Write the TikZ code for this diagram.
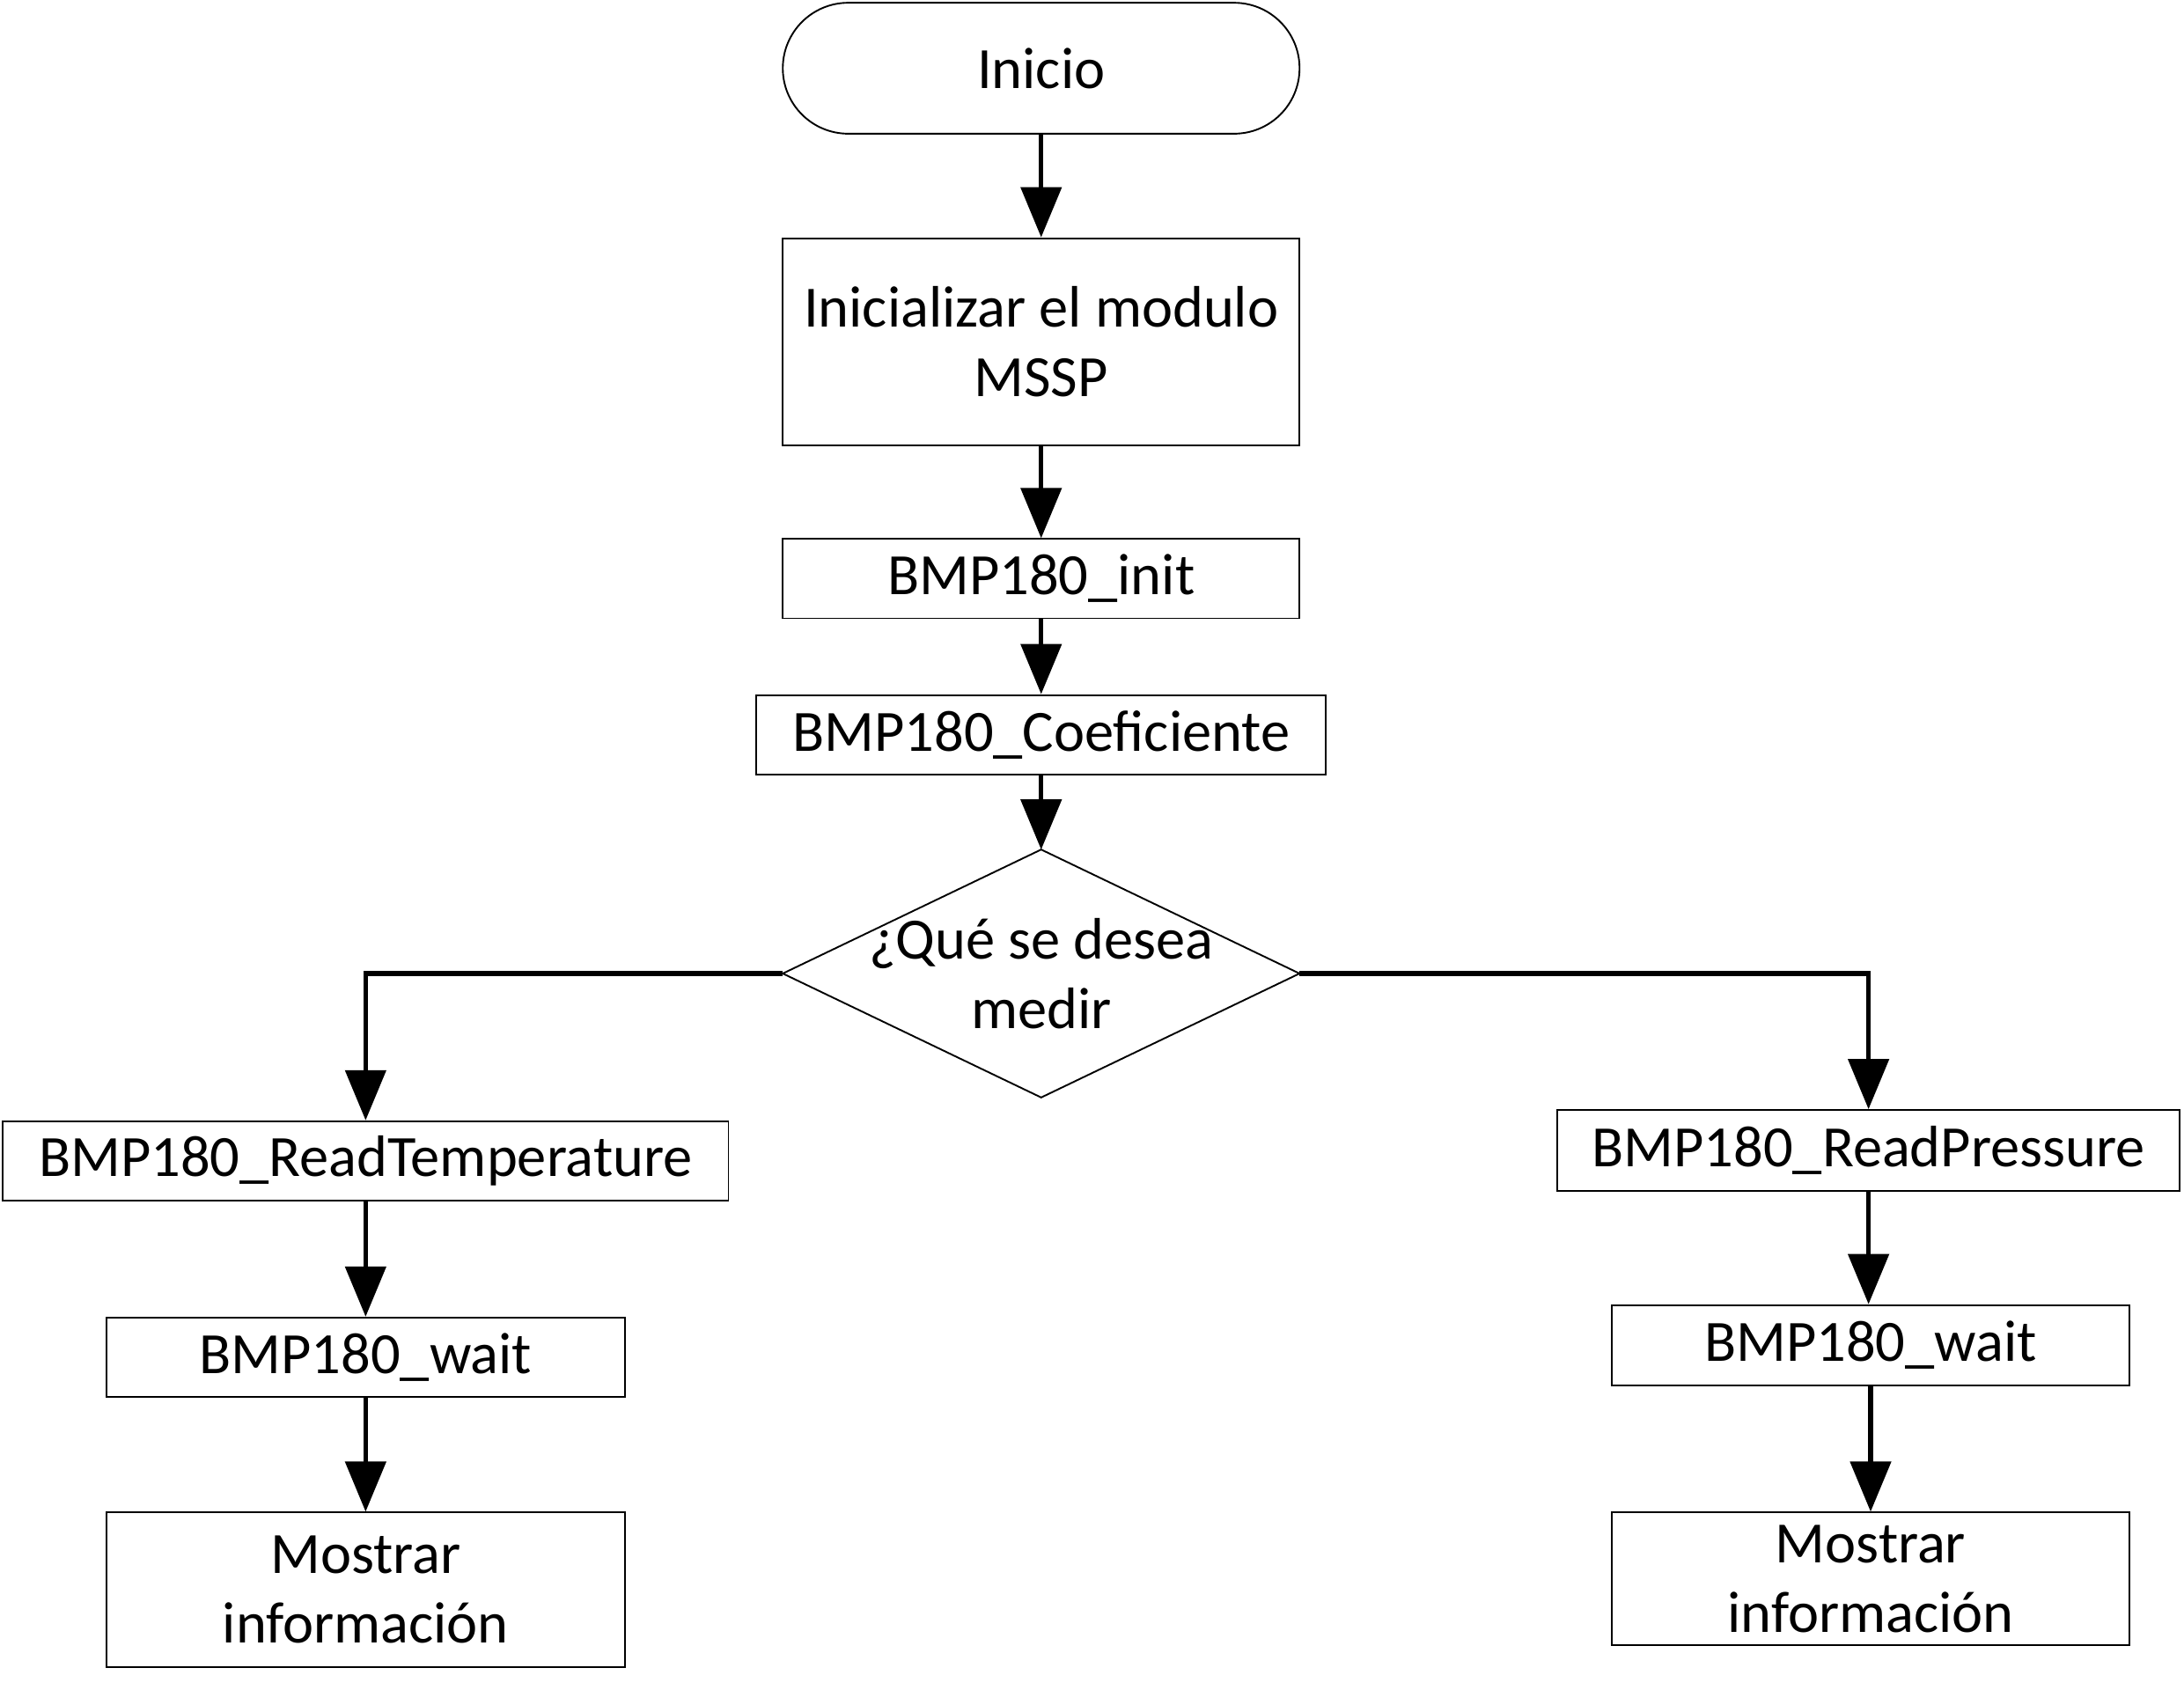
\documentclass[tikz,border=0pt]{standalone}
\usepackage{fontspec}
\setmainfont{Carlito}
\usetikzlibrary{arrows.meta}
\begin{document}
\begin{tikzpicture}[x=0.5pt,y=-0.5pt,
  txt/.style={inner sep=0pt, align=center, font=\fontsize{21}{25}\selectfont},
  box/.style={txt, draw, line width=0.6pt},
  conn/.style={line width=1.6pt, -{Triangle[length=18pt,width=14.5pt]}}]
\useasboundingbox (0,0) rectangle (1568,1213);
\fill[white] (0,0) rectangle (1568,1213);

\node[box, rounded corners=23.5pt, minimum width=185.5pt, minimum height=47pt] (ini) at (747.5,49) {Inicio};
\node[box, minimum width=185.5pt, minimum height=74.5pt] (mssp) at (747.5,245.5) {Inicializar el modulo\\MSSP};
\node[box, minimum width=185.5pt, minimum height=28.5pt] (init) at (747.5,415.5) {BMP180\_init};
\node[box, minimum width=204.5pt, minimum height=28.5pt] (coef) at (747.5,527.5) {BMP180\_Coeficiente};

\coordinate (dT) at (747.5,610);
\coordinate (dB) at (747.5,788);
\coordinate (dL) at (562,699);
\coordinate (dR) at (933,699);
\draw[line width=0.6pt, line join=miter] (dT) -- (dR) -- (dB) -- (dL) -- cycle;
\node[txt] (q) at (747.5,699) {¿Qué se desea\\medir};

\node[box, minimum width=260.5pt, minimum height=28.5pt] (temp) at (262.5,833.5) {BMP180\_ReadTemperature};
\node[box, minimum width=186pt, minimum height=28.5pt] (waitL) at (262.5,974.5) {BMP180\_wait};
\node[box, minimum width=186pt, minimum height=55.5pt] (mosL) at (262.5,1141.5) {Mostrar\\información};

\node[box, minimum width=223.5pt, minimum height=29pt] (pres) at (1341.5,826) {BMP180\_ReadPressure};
\node[box, minimum width=186pt, minimum height=29pt] (waitR) at (1343,966) {BMP180\_wait};
\node[box, minimum width=186pt, minimum height=47.5pt] (mosR) at (1343,1133.5) {Mostrar\\información};

\draw[conn] (ini.south) -- (mssp.north);
\draw[conn] (mssp.south) -- (init.north);
\draw[conn] (init.south) -- (coef.north);
\draw[conn] (coef.south) -- (dT);
\draw[conn, line join=miter] (dL) -| (temp.north);
\draw[conn, line join=miter] (dR) -| (pres.north);
\draw[conn] (temp.south) -- (waitL.north);
\draw[conn] (waitL.south) -- (mosL.north);
\draw[conn] (pres.south) -- (pres.south |- waitR.north);
\draw[conn] (waitR.south) -- (mosR.north);
\end{tikzpicture}
\end{document}
